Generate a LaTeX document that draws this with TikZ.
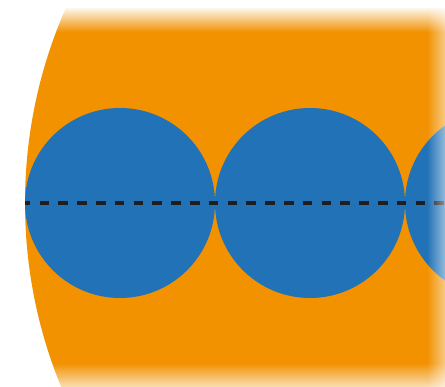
\documentclass[tikz,border=0pt]{standalone}
\usepackage{tikz}
\usetikzlibrary{positioning,fadings}
\definecolor{slab}{HTML}{F29200}
\definecolor{cell}{HTML}{2172B7}
\definecolor{ink}{HTML}{1E1E1E}
\tikzfading[name=fadetop, top color=transparent!0, bottom color=transparent!100]
\tikzfading[name=fadebottom, top color=transparent!100, bottom color=transparent!0]
\tikzfading[name=faderight, left color=transparent!100, right color=transparent!0]

\begin{document}
\begin{tikzpicture}[x=1pt,y=1pt,
  cellball/.style={circle,fill=cell,minimum size=190pt,inner sep=0pt},
  axisline/.style={ink,line width=4.4pt,dash pattern=on 9.5pt off 9.3pt,dash phase=4pt}]
\useasboundingbox (0,0) rectangle (445,387);
\clip (0,0) rectangle (445,387);
% orange slab, cut on the left by a large arc
\begin{scope}
  \clip (509,184) circle (484);
  \fill[slab] (0,-10) rectangle (460,379);
\end{scope}
% row of cells
\node[cellball] (c1) at (120,184) {};
\node[cellball] (c2) at (310,184) {};
\node[cellball] (c3) at (500,184) {};
% axis through the centres
\coordinate (axisend) at (445,184);
\draw[axisline] (c1.west) -- (axisend);
% soft edges
\fill[white,path fading=fadetop] (0,355) rectangle (460,381);
\fill[white] (0,379) rectangle (460,390);
\fill[white,path fading=fadebottom] (0,-10) rectangle (460,24);
\fill[white,path fading=faderight] (427,-10) rectangle (462,390);
\end{tikzpicture}
\end{document}
